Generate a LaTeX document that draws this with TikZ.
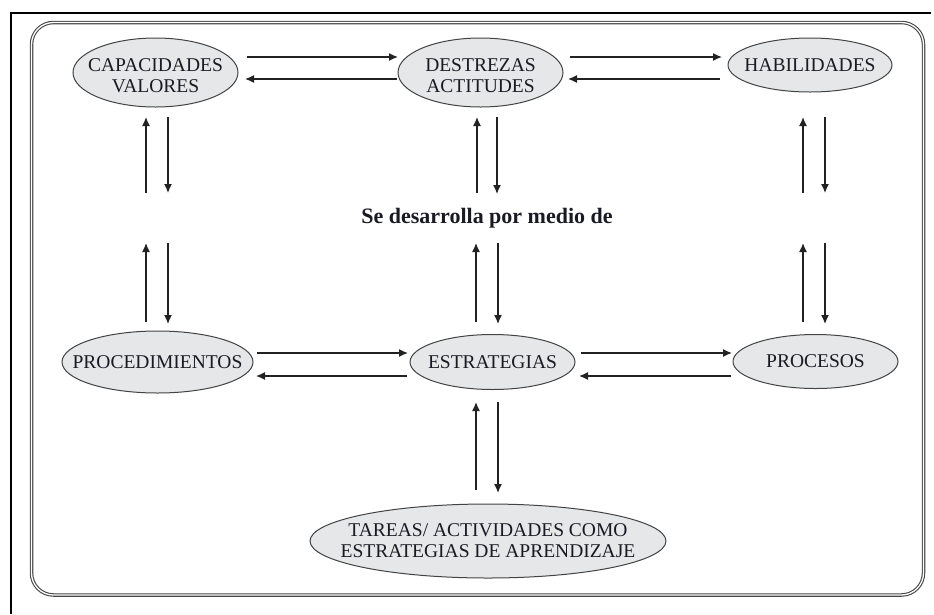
\documentclass[tikz,border=0pt]{standalone}
\usepackage{fontspec}
\setmainfont{Liberation Serif}
\usetikzlibrary{shapes.geometric,arrows.meta}
\definecolor{txt}{HTML}{1A1A24}
\definecolor{ellfill}{HTML}{E6E7E8}
\definecolor{ln}{HTML}{222222}
\tikzset{
  ell/.style={ellipse, draw=ln!85, line width=1pt, fill=ellfill, inner sep=0pt},
  lab/.style={text=txt, align=center, inner sep=0pt, font=\fontsize{19.5}{21}\selectfont},
  arr/.style={draw=ln, line width=1.4pt, -{Latex[length=9pt,width=8pt]}},
  frame/.style={draw=black, line width=1.6pt},
  box/.style={draw=gray!55!black, double=white, double distance=1.3pt, line width=1.1pt, rounded corners=22pt}
}
\begin{document}
\begin{tikzpicture}[x=1pt,y=-1pt]
\useasboundingbox (0,0) rectangle (934,614);
% outer frame
\draw[frame] (10,13) -- (931,13);
\draw[frame] (11,13) -- (11,614);
% inner rounded box
\draw[box] (31.5,22.5) rectangle (923.5,595);
% nodes
\node[ell, minimum width=165pt, minimum height=69pt, label={[lab, yshift=-3pt]center:{CAPACIDADES\\VALORES}}] (cap) at (155.5,72.5) {};
\node[ell, minimum width=165pt, minimum height=69pt, label={[lab, yshift=-3pt]center:{DESTREZAS\\ACTITUDES}}] (des) at (480.5,72.5) {};
\node[ell, minimum width=164pt, minimum height=54pt, label={[lab]center:HABILIDADES}] (hab) at (810,65) {};
\node[ell, minimum width=191pt, minimum height=62pt, label={[lab]center:PROCEDIMIENTOS}] (proc) at (157.5,362) {};
\node[ell, minimum width=165pt, minimum height=55pt, label={[lab]center:ESTRATEGIAS}] (est) at (492.5,362) {};
\node[ell, minimum width=165pt, minimum height=54pt, label={[lab]center:PROCESOS}] (pros) at (815.5,361.5) {};
\node[ell, minimum width=356pt, minimum height=74pt, label={[lab]center:{TAREAS/ ACTIVIDADES COMO\\ESTRATEGIAS DE APRENDIZAJE}}] (tar) at (488,541) {};
\node[text=txt, font=\bfseries\fontsize{22}{24}\selectfont, inner sep=0pt] (mid) at (487,218) {Se desarrolla por medio de};
\coordinate (gl) at (157,218);
\coordinate (gr) at (814,218);
% horizontal connectors, top row
\draw[arr] ([shift={(91.5,-15.5)}]cap.center) -- ([shift={(-82.5,-15.5)}]des.center);
\draw[arr] ([shift={(-83.5,6.5)}]des.center) -- ([shift={(89.5,6.5)}]cap.center);
\draw[arr] ([shift={(89.5,-15.5)}]des.center) -- ([shift={(-88,-8)}]hab.center);
\draw[arr] ([shift={(-90,14)}]hab.center) -- ([shift={(87.5,6.5)}]des.center);
% horizontal connectors, middle row
\draw[arr] ([shift={(99.5,-9)}]proc.center) -- ([shift={(-84.5,-9)}]est.center);
\draw[arr] ([shift={(-85.5,14)}]est.center) -- ([shift={(98.5,14)}]proc.center);
\draw[arr] ([shift={(88.5,-9)}]est.center) -- ([shift={(-83.5,-8.5)}]pros.center);
\draw[arr] ([shift={(-84.5,14.5)}]pros.center) -- ([shift={(86.5,14)}]est.center);
% vertical connectors, left column
\draw[arr] ([shift={(-11,-25)}]gl) -- ([shift={(-9.5,44.5)}]cap.center);
\draw[arr] ([shift={(12.5,44.5)}]cap.center) -- ([shift={(11,-25)}]gl);
\draw[arr] ([shift={(-11.5,-40)}]proc.center) -- ([shift={(-11,25)}]gl);
\draw[arr] ([shift={(11,25)}]gl) -- ([shift={(10.5,-38)}]proc.center);
% vertical connectors, middle column
\draw[arr] ([shift={(-10,-25)}]mid.center) -- ([shift={(-3.5,44.5)}]des.center);
\draw[arr] ([shift={(16.5,44.5)}]des.center) -- ([shift={(10,-24)}]mid.center);
\draw[arr] ([shift={(-16.5,-40)}]est.center) -- ([shift={(-11,25)}]mid.center);
\draw[arr] ([shift={(11,25)}]mid.center) -- ([shift={(5.5,-38)}]est.center);
% vertical connectors, right column
\draw[arr] ([shift={(-11,-25)}]gr) -- ([shift={(-7,52)}]hab.center);
\draw[arr] ([shift={(15,52)}]hab.center) -- ([shift={(11,-25)}]gr);
\draw[arr] ([shift={(-12.5,-39.5)}]pros.center) -- ([shift={(-11,25)}]gr);
\draw[arr] ([shift={(11,25)}]gr) -- ([shift={(9.5,-37.5)}]pros.center);
% bottom connectors
\draw[arr] ([shift={(-12,-51)}]tar.center) -- ([shift={(-16.5,40)}]est.center);
\draw[arr] ([shift={(5.5,40)}]est.center) -- ([shift={(10,-48)}]tar.center);
\end{tikzpicture}
\end{document}
